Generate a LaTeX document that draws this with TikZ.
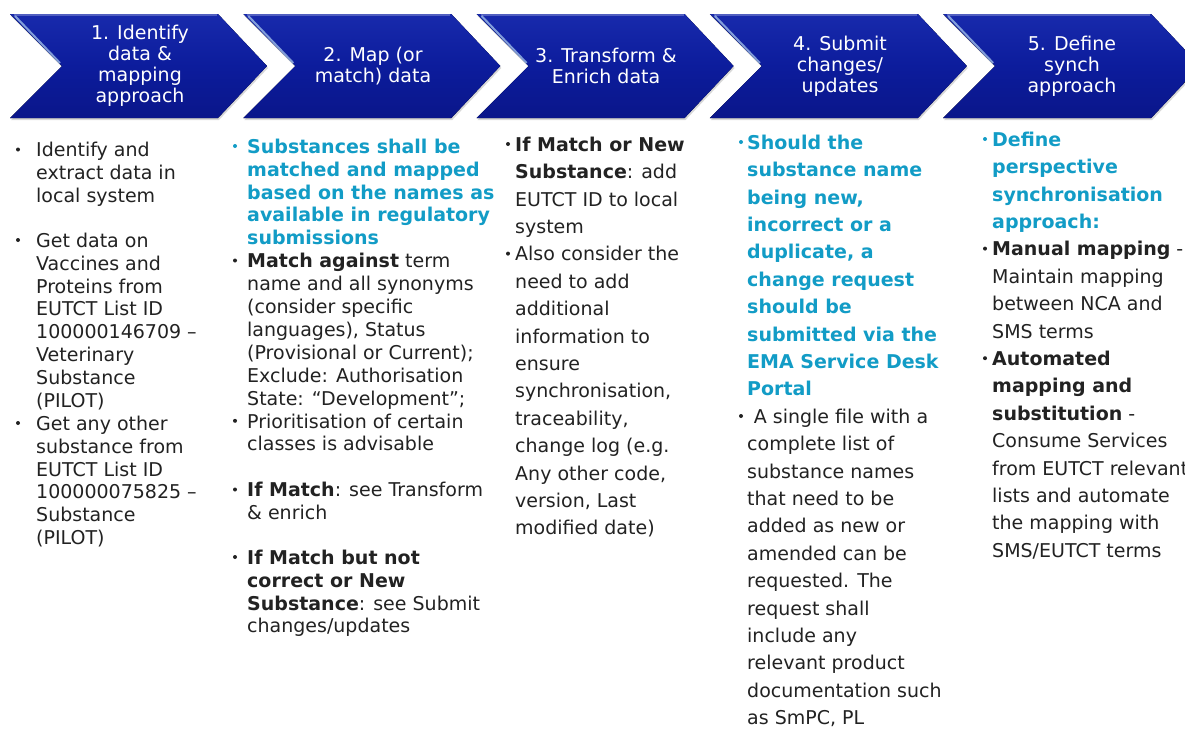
\documentclass[tikz,border=0pt]{standalone}
\usepackage{fontspec}
\setmainfont{DejaVu Sans}
\usetikzlibrary{shadows}
\definecolor{chevblue}{RGB}{12,28,156}
\definecolor{chevtop}{RGB}{24,42,172}
\definecolor{chevlow}{RGB}{10,22,138}
\definecolor{headcyan}{RGB}{18,156,198}
\definecolor{bodygray}{RGB}{34,34,34}

\begin{document}
\begin{tikzpicture}[x=1pt,y=-1pt,
	chevron/.style={top color=chevtop,bottom color=chevlow,middle color=chevblue,drop shadow={opacity=0.3,shadow xshift=1pt,shadow yshift=-2pt}},
	glint/.style={line width=2pt,white!80!cyan,opacity=0.6},
	chevtext/.style={align=center,text=white,font=\fontsize{19}{21}\selectfont,inner sep=0},
	body/.style={anchor=north west,align=left,inner sep=0,text=bodygray,font=\fontsize{19}{22.9}\selectfont},
	tallbody/.style={body,font=\fontsize{19}{27.4}\selectfont},
	head/.style={text=headcyan,font=\fontsize{19}{22.9}\bfseries\selectfont},
	tallhead/.style={tallbody,text=headcyan,font=\fontsize{19}{27.4}\bfseries\selectfont},
	dot/.style={circle,fill=bodygray,inner sep=0,minimum size=4pt},
	cyandot/.style={dot,fill=headcyan}]
	\useasboundingbox (0,0) rectangle (1185,729);
	\fill[white] (0,0) rectangle (1185,729);
	\begin{scope}
	\clip (0,0) rectangle (1185,729);
	\foreach \i in {0,...,4}{
		\pgfmathsetmacro{\xo}{10+233.3*\i}
		\fill[chevron] (\xo,14) -- ++(208,0) -- ++(49,52) -- ++(-49,52) -- ++(-208,0) -- ++(52,-52) -- cycle;
		\draw[glint] (\xo+5,16) -- (\xo+50,63);
		\draw[line width=1.5pt,white,opacity=0.25] (\xo+4,15) -- (\xo+207,15);
	}
	\end{scope}
	\node[chevtext] (h1) at (140,66) {1. Identify\\data \&\\mapping\\approach};
	\node[chevtext] (h2) at (373,66) {2. Map (or\\match) data};
	\node[chevtext] (h3) at (606,66) {3. Transform \&\\Enrich data};
	\node[chevtext] (h4) at (840,66) {4. Submit\\changes/\\updates};
	\node[chevtext] (h5) at (1072,66) {5. Define\\synch\\approach};

	\node[dot] (d1a) at (18,149.5) {};
	\node[dot] (d1b) at (18,240) {};
	\node[dot] (d1c) at (18,423) {};
	\node[body] (c1a) at (36,142.1) {Identify and\\extract data in\\local system};
	\node[body] (c1b) at (36,232.6) {Get data on\\Vaccines and\\Proteins from\\EUTCT List ID\\100000146709 –\\Veterinary\\Substance\\(PILOT)};
	\node[body] (c1c) at (36,415.6) {Get any other\\substance from\\EUTCT List ID\\100000075825 –\\Substance\\(PILOT)};

	\node[cyandot] (d2a) at (235,146) {};
	\node[dot] (d2b) at (235,260.5) {};
	\node[dot] (d2c) at (235,420.8) {};
	\node[dot] (d2d) at (235,489.5) {};
	\node[dot] (d2e) at (235,557) {};
	\node[body,head] (c2a) at (247,138.6) {Substances shall be\\matched and mapped\\based on the names as\\available in regulatory\\submissions};
	\node[body] (c2b) at (247,253.1) {\textbf{Match against} term\\name and all synonyms\\(consider specific\\languages), Status\\(Provisional or Current);\\Exclude: Authorisation\\State: “Development”;};
	\node[body] (c2c) at (247,413.4) {Prioritisation of certain\\classes is advisable};
	\node[body] (c2d) at (247,482.1) {\textbf{If Match}: see Transform\\\& enrich};
	\node[body] (c2e) at (247,549.6) {\textbf{If Match but not}\\\textbf{correct or New}\\\textbf{Substance}: see Submit\\changes/updates};

	\node[dot] (d3a) at (508,144) {};
	\node[dot] (d3b) at (508,253.6) {};
	\node[tallbody] (c3a) at (515,136.6) {\textbf{If Match or New}\\\textbf{Substance}: add\\EUTCT ID to local\\system};
	\node[tallbody] (c3b) at (515,246.2) {Also consider the\\need to add\\additional\\information to\\ensure\\synchronisation,\\traceability,\\change log (e.g.\\Any other code,\\version, Last\\modified date)};

	\node[cyandot] (d4a) at (741,142) {};
	\node[dot] (d4b) at (741,416) {};
	\node[tallhead] (c4a) at (747,134.6) {Should the\\substance name\\being new,\\incorrect or a\\duplicate, a\\change request\\should be\\submitted via the\\EMA Service Desk\\Portal};
	\node[tallbody] (c4b) at (747,408.6) {\hspace*{0.35em}A single file with a\\complete list of\\substance names\\that need to be\\added as new or\\amended can be\\requested. The\\request shall\\include any\\relevant product\\documentation such\\as SmPC, PL};

	\node[cyandot] (d5a) at (985,139) {};
	\node[dot] (d5b) at (985,248.6) {};
	\node[dot] (d5c) at (985,358.2) {};
	\node[tallhead] (c5a) at (992,131.6) {Define\\perspective\\synchronisation\\approach:};
	\node[tallbody] (c5b) at (992,241.2) {\textbf{Manual mapping} -\\Maintain mapping\\between NCA and\\SMS terms};
	\node[tallbody] (c5c) at (992,350.8) {\textbf{Automated}\\\textbf{mapping and}\\\textbf{substitution} -\\Consume Services\\from EUTCT relevant\\lists and automate\\the mapping with\\SMS/EUTCT terms};
\end{tikzpicture}
\end{document}
